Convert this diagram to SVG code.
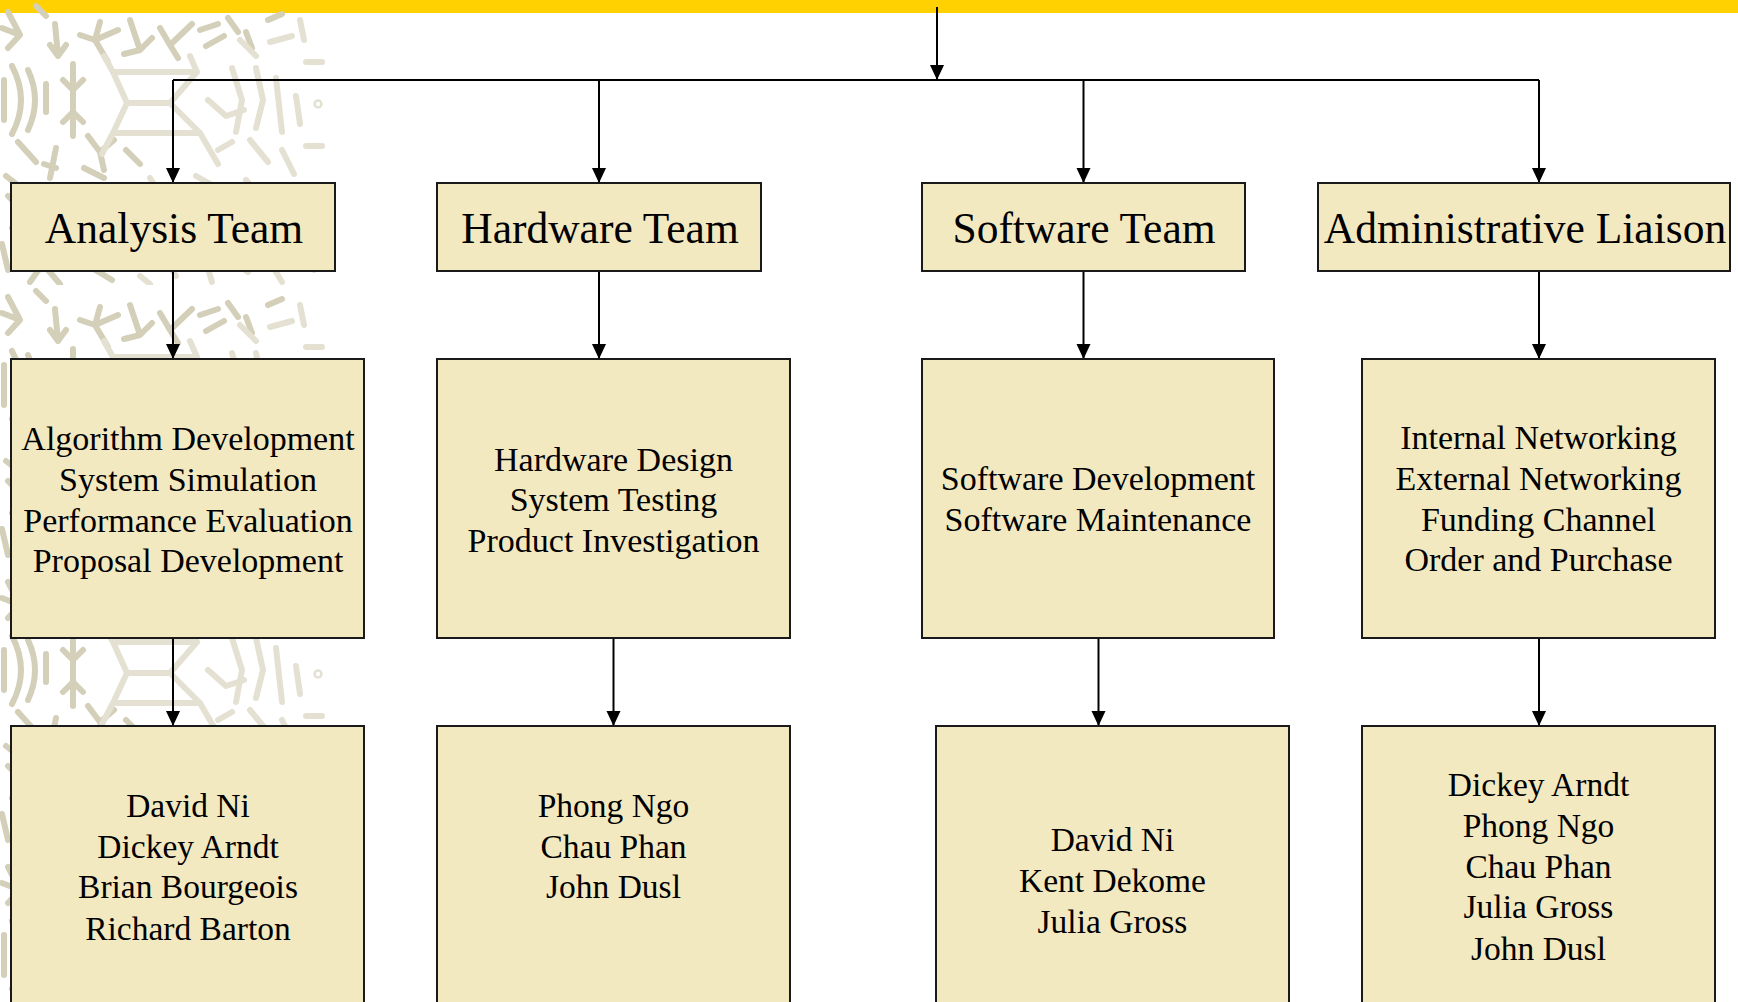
<svg xmlns="http://www.w3.org/2000/svg" width="1738" height="1002" viewBox="0 0 1738 1002">
<style>
.box{fill:#F3E9C0;stroke:#1a1a1a;stroke-width:2}
.t{font-family:"Liberation Serif","Times New Roman",serif;fill:#000;text-anchor:middle}
.h{font-size:43.5px}
.d{font-size:34px}
.n{font-size:33.5px}
.c{fill:none;stroke:#000;stroke-width:2;marker-end:url(#ah)}
.pd{fill:none;stroke:#d3cfb8;stroke-width:6;stroke-linecap:round;stroke-linejoin:round}
.pl{fill:none;stroke:#e4e1d3;stroke-width:6;stroke-linecap:round;stroke-linejoin:round}
</style>
<defs>
<marker id="ah" markerUnits="userSpaceOnUse" markerWidth="15" markerHeight="15" viewBox="0 0 15 15" refX="15" refY="7.5" orient="auto">
<path d="M0,0.5 L15,7.5 L0,14.5 z" fill="#000"/>
</marker>
<pattern id="bg" patternUnits="userSpaceOnUse" x="0" y="0" width="325" height="285">
<path class="pd" d="M8,12 L20,35 L8,48 M2,28 L20,35 M55,24 L58,56 M50,45 L58,56 L66,45 M80,35 L95,40 L108,62 M95,40 L100,22 M95,40 L118,30 M130,20 L140,50 L152,38 M124,54 L140,50 M160,28 L170,45 L192,24 M170,45 L178,58 M200,30 L218,24 M206,46 L224,36 M246,32 L252,48 M228,18 L238,32 M268,20 L282,14 M36,6 L46,16"/>
<path class="pd" d="M12,66 Q30,100 12,134 M28,70 Q42,100 28,130 M73,64 L73,136 M63,80 L73,90 L83,80 M63,122 L73,112 L83,122 M46,84 L46,112 M4,80 L4,120 M18,142 L36,162 M88,136 L100,152 L114,140 M100,152 L104,170 M56,148 L50,178 M44,164 L56,168 M84,168 L104,178 M6,176 L24,190 M126,150 L140,164"/>
<path class="pd" d="M8,196 L22,210 L12,228 M40,194 L56,214 L50,236 M64,230 L74,262 M60,248 L74,240 L90,248 M100,198 L110,226 L130,214 M110,226 L104,246 M22,248 L40,268 L30,282 M92,268 L112,280 M120,240 L134,262 M2,244 L8,270 M48,270 L60,284 M140,196 L150,214"/>
<path class="pl" d="M113,72 L197,72 M127,103 L167,103 M113,133 L200,133 M104,56 L113,72 L127,103 L113,133 L102,154 M190,56 L197,72 L170,103 L200,133 L218,164 M232,68 L242,100 L236,132 M256,68 L263,100 L256,128 M276,78 L282,132 M306,62 L322,62 M306,146 L322,146 M208,100 L226,116 L244,110 M250,140 L268,162 M282,150 L294,174 M218,150 L232,142 M296,96 L300,124 M240,40 L256,56 M270,42 L292,36 M300,20 L304,40"/>
<circle cx="318" cy="104" r="3.5" fill="none" stroke="#e4e1d3" stroke-width="2.5"/>
<path class="pl" d="M150,178 L164,200 L154,232 M164,200 L186,196 M184,214 L204,232 M206,218 L236,230 L260,214 M236,230 L240,252 M226,256 L248,272 M268,196 L290,240 M300,188 L318,188 M160,250 L176,276 M176,262 L196,254 M196,176 L214,186 M246,180 L260,196 M296,256 L314,270 M304,222 L318,230 M270,262 L282,282 M206,262 L212,282 M140,276 L150,284"/>
</pattern>
</defs>
<rect x="0" y="0" width="1738" height="1002" fill="#fff"/>
<rect x="0" y="0" width="1738" height="13" fill="#FFD100"/>
<rect x="0" y="0" width="325" height="1002" fill="url(#bg)"/>

<g id="connectors">
<line class="c" x1="937" y1="7" x2="937" y2="80"/>
<line x1="173" y1="80" x2="1539" y2="80" stroke="#000" stroke-width="2"/>
<line class="c" x1="173" y1="80" x2="173" y2="183"/>
<line class="c" x1="599" y1="80" x2="599" y2="183"/>
<line class="c" x1="1083.5" y1="80" x2="1083.5" y2="183"/>
<line class="c" x1="1539" y1="80" x2="1539" y2="183"/>
<line class="c" x1="173" y1="271" x2="173" y2="359"/>
<line class="c" x1="599" y1="271" x2="599" y2="359"/>
<line class="c" x1="1083.5" y1="271" x2="1083.5" y2="359"/>
<line class="c" x1="1539" y1="271" x2="1539" y2="359"/>
<line class="c" x1="173" y1="638" x2="173" y2="726"/>
<line class="c" x1="613.5" y1="638" x2="613.5" y2="726"/>
<line class="c" x1="1098.5" y1="638" x2="1098.5" y2="726"/>
<line class="c" x1="1539" y1="638" x2="1539" y2="726"/>
</g>

<g id="analysis-team">
<rect class="box" x="11" y="183" width="324" height="88"/>
<text class="t h" x="174" y="243">Analysis Team</text>
</g>
<g id="hardware-team">
<rect class="box" x="437" y="183" width="324" height="88"/>
<text class="t h" x="600" y="243">Hardware Team</text>
</g>
<g id="software-team">
<rect class="box" x="922" y="183" width="323" height="88"/>
<text class="t h" x="1084" y="243">Software Team</text>
</g>
<g id="admin-liaison">
<rect class="box" x="1318" y="183" width="412" height="88"/>
<text class="t h" x="1525" y="243">Administrative Liaison</text>
</g>

<g id="analysis-tasks">
<rect class="box" x="11" y="359" width="353" height="279"/>
<text class="t d" x="188" y="450">Algorithm Development</text>
<text class="t d" x="188" y="491">System Simulation</text>
<text class="t d" x="188" y="532">Performance Evaluation</text>
<text class="t d" x="188" y="572">Proposal Development</text>
</g>
<g id="hardware-tasks">
<rect class="box" x="437" y="359" width="353" height="279"/>
<text class="t d" x="613.5" y="471">Hardware Design</text>
<text class="t d" x="613.5" y="511">System Testing</text>
<text class="t d" x="613.5" y="552">Product Investigation</text>
</g>
<g id="software-tasks">
<rect class="box" x="922" y="359" width="352" height="279"/>
<text class="t d" x="1098" y="490">Software Development</text>
<text class="t d" x="1098" y="531">Software Maintenance</text>
</g>
<g id="admin-tasks">
<rect class="box" x="1362" y="359" width="353" height="279"/>
<text class="t d" x="1538.5" y="449">Internal Networking</text>
<text class="t d" x="1538.5" y="490">External Networking</text>
<text class="t d" x="1538.5" y="531">Funding Channel</text>
<text class="t d" x="1538.5" y="571">Order and Purchase</text>
</g>

<g id="analysis-members">
<rect class="box" x="11" y="726" width="353" height="300"/>
<text class="t n" x="188" y="817">David Ni</text>
<text class="t n" x="188" y="857.5">Dickey Arndt</text>
<text class="t n" x="188" y="898">Brian Bourgeois</text>
<text class="t n" x="188" y="940">Richard Barton</text>
</g>
<g id="hardware-members">
<rect class="box" x="437" y="726" width="353" height="300"/>
<text class="t n" x="613.5" y="816.5">Phong Ngo</text>
<text class="t n" x="613.5" y="857.5">Chau Phan</text>
<text class="t n" x="613.5" y="898">John Dusl</text>
</g>
<g id="software-members">
<rect class="box" x="936" y="726" width="353" height="300"/>
<text class="t n" x="1112.5" y="851">David Ni</text>
<text class="t n" x="1112.5" y="892">Kent Dekome</text>
<text class="t n" x="1112.5" y="933">Julia Gross</text>
</g>
<g id="admin-members">
<rect class="box" x="1362" y="726" width="353" height="300"/>
<text class="t n" x="1538.5" y="796">Dickey Arndt</text>
<text class="t n" x="1538.5" y="836.5">Phong Ngo</text>
<text class="t n" x="1538.5" y="877.5">Chau Phan</text>
<text class="t n" x="1538.5" y="918">Julia Gross</text>
<text class="t n" x="1538.5" y="960">John Dusl</text>
</g>
</svg>
